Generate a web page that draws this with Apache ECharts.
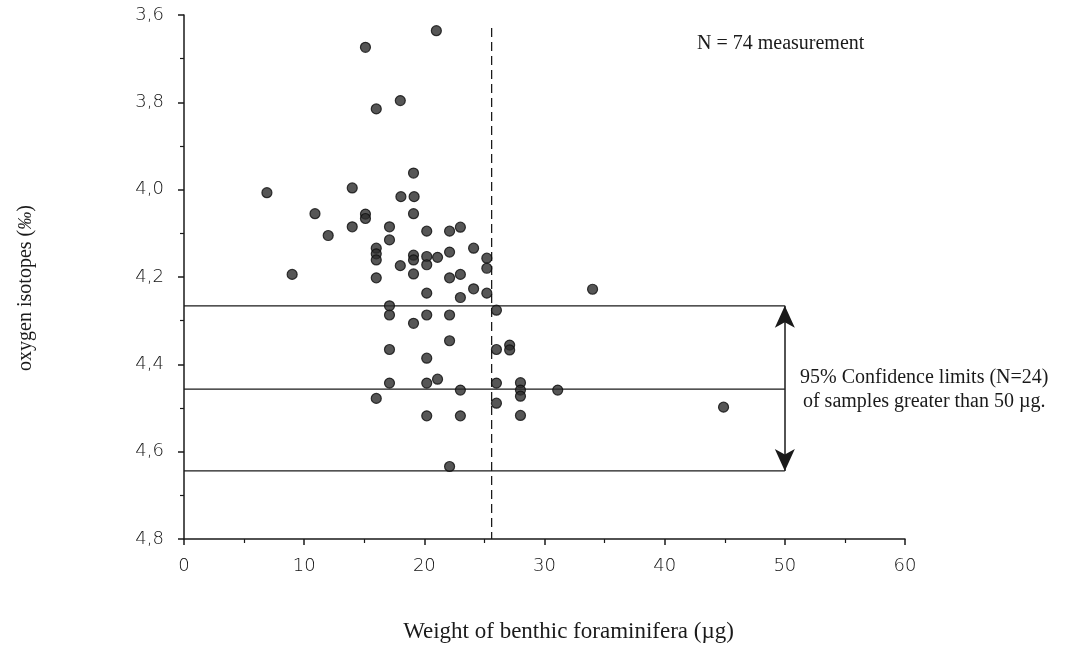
<!DOCTYPE html>
<html><head><meta charset="utf-8">
<script src="https://cdn.jsdelivr.net/npm/echarts@6/dist/echarts.min.js"></script>
<style>html,body{margin:0;padding:0;background:#fff}#c{width:1066px;height:658px}</style>
</head><body><div id="c"></div>
<script>
// Measurements: weight (µg) and oxygen isotope value (‰)
const weights = [21.0,15.1,18.0,16.0,19.1,14.0,6.9,18.05,19.15,10.9,15.1,15.1,19.1,14.0,17.1,12.0,20.2,22.1,23.0,17.1,24.1,16.0,16.0,16.0,19.1,19.1,20.2,20.2,21.1,22.1,25.2,25.2,18.0,19.1,22.1,23.0,9.0,16.0,20.2,24.1,23.0,25.2,17.1,17.1,26.0,20.2,22.1,19.1,22.1,17.1,26.0,27.1,27.1,20.2,17.1,20.2,21.1,23.0,16.0,26.0,26.0,20.2,23.0,22.1,34.0,28.0,28.0,28.0,28.0,31.1,44.9];
const isotopes = [3.636,3.674,3.796,3.815,3.962,3.996,4.007,4.016,4.016,4.055,4.056,4.066,4.055,4.085,4.085,4.105,4.095,4.095,4.086,4.115,4.134,4.134,4.147,4.161,4.150,4.161,4.153,4.172,4.155,4.143,4.157,4.180,4.174,4.193,4.202,4.194,4.194,4.202,4.237,4.227,4.247,4.237,4.266,4.287,4.276,4.287,4.287,4.306,4.346,4.366,4.366,4.356,4.367,4.386,4.443,4.443,4.434,4.459,4.478,4.443,4.489,4.518,4.518,4.634,4.228,4.442,4.459,4.473,4.517,4.459,4.498];
const confLevels = [4.266, 4.457, 4.644];   // lower limit, mean, upper limit
const confRange = [0, 50];                   // x extent of confidence lines
const cutoffX = 25.6;                        // dashed vertical line
const cutoffY = [3.63, 4.8];
const xTicks = [0, 60, 10];
const yTicks = [3.6, 4.8, 0.2];

const points = weights.map((w, i) => [w, isotopes[i]]);
const serif = 'Liberation Serif';
const ink = '#1a1a1a';
const tickFont = {fontFamily: 'DejaVu Sans', fontWeight: 200, fontSize: 18, color: '#111'};

const confSeries = confLevels.map(v => ({
  type: 'line', data: [[confRange[0], v], [confRange[1], v]],
  symbol: 'none', silent: true, lineStyle: {color: ink, width: 1.3}, z: 2
}));

const option = {
  animation: false,
  backgroundColor: '#fff',
  grid: {left: 184, right: 161, top: 15, bottom: 119},
  xAxis: {
    type: 'value', min: xTicks[0], max: xTicks[1], interval: xTicks[2],
    name: 'Weight of benthic foraminifera (\u00b5g)', nameLocation: 'middle', nameGap: 81,
    nameTextStyle: {fontFamily: serif, fontSize: 23, color: ink, padding: [0, 0, 0, 48]},
    axisLine: {lineStyle: {color: ink, width: 1.5}},
    axisTick: {inside: false, length: 6, lineStyle: {color: ink, width: 1.5}},
    minorTick: {show: true, splitNumber: 2, length: 4, lineStyle: {color: ink, width: 1.2}},
    axisLabel: Object.assign({margin: 18}, tickFont),
    splitLine: {show: false}
  },
  yAxis: {
    type: 'value', inverse: true, min: yTicks[0], max: yTicks[1], interval: yTicks[2],
    name: '{a|oxygen isotopes (}{b|\u2030}{a|)}', nameLocation: 'middle', nameGap: 148, nameRotate: 90,
    nameTextStyle: {padding: [0, 22, 0, 0], rich: {a: {fontFamily: serif, fontSize: 20, color: ink}, b: {fontFamily: serif, fontSize: 18, fontStyle: 'italic', color: ink}}},
    axisLine: {lineStyle: {color: ink, width: 1.5}},
    axisTick: {inside: false, length: 6, lineStyle: {color: ink, width: 1.5}},
    minorTick: {show: true, splitNumber: 2, length: 4, lineStyle: {color: ink, width: 1.2}},
    axisLabel: Object.assign({margin: 20, formatter: v => v.toFixed(1).replace('.', ',')}, tickFont),
    splitLine: {show: false}
  },
  series: [
    ...confSeries,
    {
      type: 'line', data: [[cutoffX, cutoffY[0]], [cutoffX, cutoffY[1]]], symbol: 'none', silent: true,
      lineStyle: {color: ink, width: 1.3, type: [9, 5]}, z: 2
    },
    {
      type: 'line', data: [], silent: true,
      markLine: {
        silent: true, symbol: ['arrow', 'arrow'], symbolSize: [15, 22],
        lineStyle: {color: ink, width: 1.5, type: 'solid'}, label: {show: false},
        data: [[{coord: [confRange[1], confLevels[0]]}, {coord: [confRange[1], confLevels[2]]}]]
      }
    },
    {
      type: 'scatter', data: points, symbolSize: 10, z: 5,
      itemStyle: {color: '#2c2c2c', borderColor: '#0d0d0d', borderWidth: 1.2}
    }
  ],
  graphic: [
    {type: 'text', left: 697, top: 34, style: {text: 'N = 74 measurement', font: '20px "Liberation Serif"', fill: ink}},
    {type: 'text', left: 800, top: 366, style: {text: '95% Confidence limits (N=24)\nof samples greater than 50 \u00b5g.', font: '20px "Liberation Serif"', fill: ink, textAlign: 'center', lineHeight: 24}}
  ]
};
echarts.init(document.getElementById('c')).setOption(option);
</script></body></html>
